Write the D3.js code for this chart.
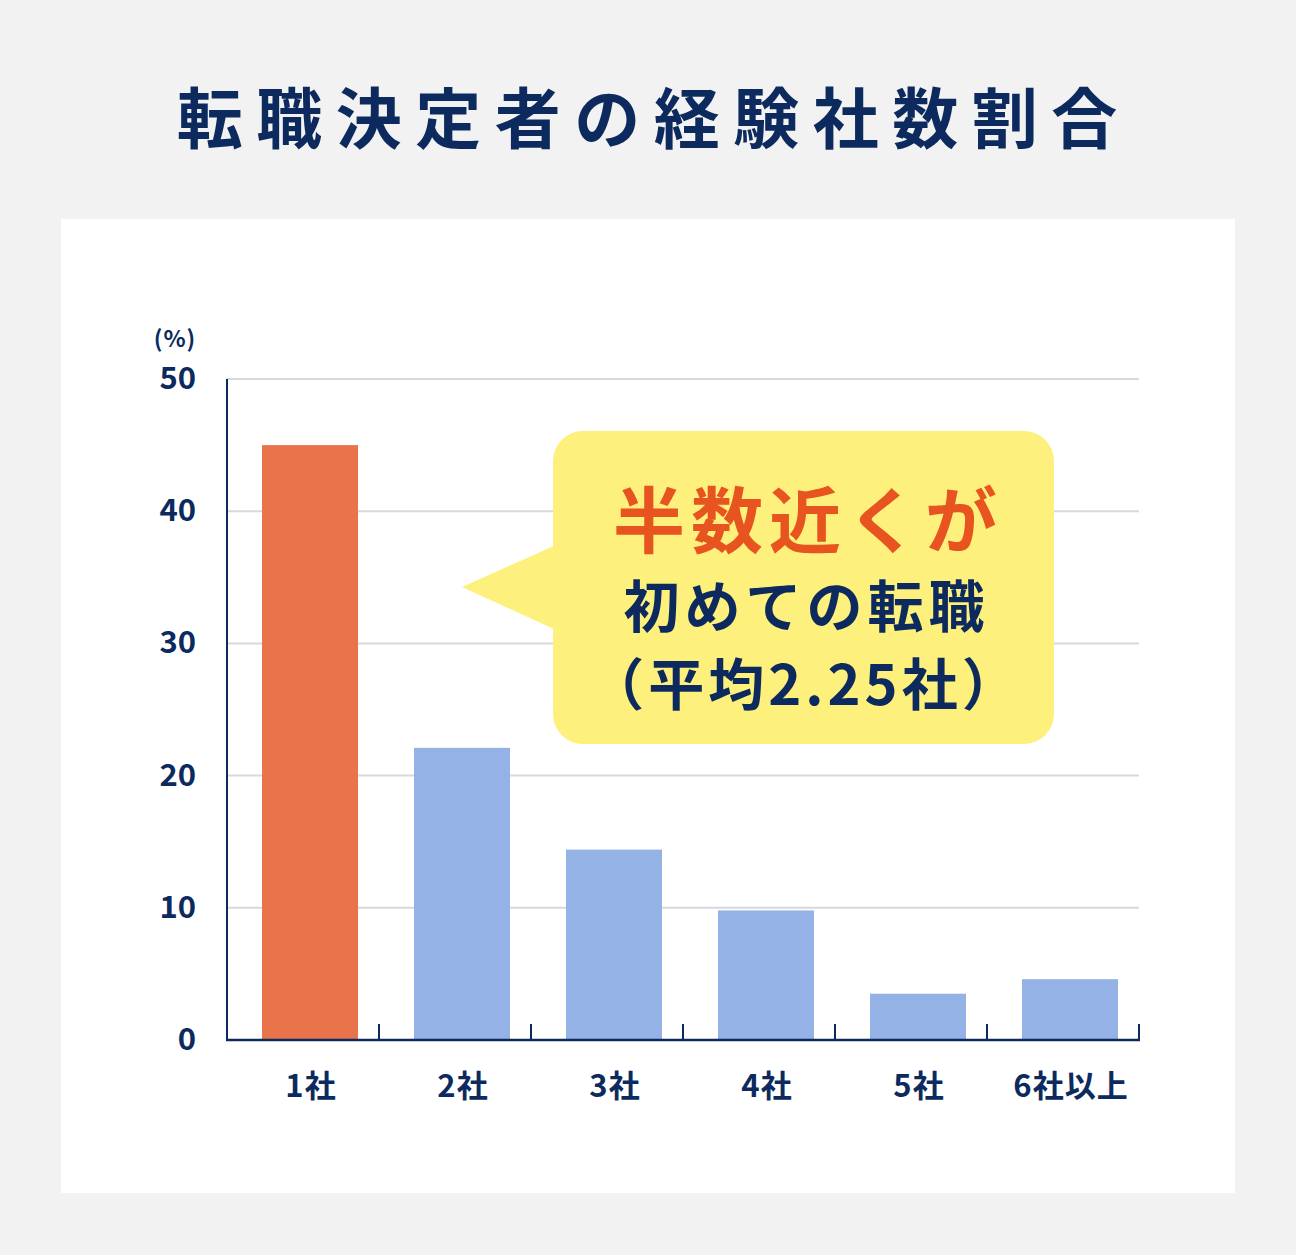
<!DOCTYPE html>
<html><head><meta charset="utf-8">
<script src="https://cdn.jsdelivr.net/npm/d3@7"></script>
<style>
html,body{margin:0;padding:0;background:#f2f2f2;}
svg{display:block;font-family:"Noto Sans CJK JP","Noto Sans",sans-serif;}
</style></head>
<body>
<svg id="chart" width="1296" height="1255"></svg>
<script>
const title = "転職決定者の経験社数割合";
const categories = ["1社","2社","3社","4社","5社","6社以上"];
const values = [45.0, 22.1, 14.4, 9.8, 3.5, 4.6];
const highlight = [true,false,false,false,false,false];
const yTicks = [0,10,20,30,40,50];
const unitLabel = "(%)";
const calloutLines = ["半数近くが","初めての転職","（平均2.25社）"];

const navy = "#0c2a5e";
const svg = d3.select("#chart");
svg.append("rect").attr("width",1296).attr("height",1255).attr("fill","#f2f2f2");
svg.append("rect").attr("x",61).attr("y",219).attr("width",1174).attr("height",974).attr("fill","#ffffff");

const tSp = 13.5;
svg.append("text").attr("x",647+tSp/2).attr("y",143).attr("text-anchor","middle")
  .attr("font-size",66).attr("font-weight",700).attr("fill",navy).attr("letter-spacing",tSp).text(title);

const x = d3.scaleBand().domain(categories).range([227,1139]).paddingInner(0).paddingOuter(0);
const y = d3.scaleLinear().domain([0,50]).range([1040,379]);

// gridlines
svg.append("g").selectAll("line").data(yTicks.filter(d=>d>0)).join("line")
  .attr("x1",227).attr("x2",1139).attr("y1",d=>y(d)).attr("y2",d=>y(d))
  .attr("stroke","#d8d8dd").attr("stroke-width",2);

// bars
const bw = 96, shift = 7;
svg.append("g").selectAll("rect").data(values).join("rect")
  .attr("x",(d,i)=>x(categories[i])+x.bandwidth()/2+shift-bw/2)
  .attr("width",bw)
  .attr("y",d=>y(d)).attr("height",d=>y(0)-y(d))
  .attr("fill",(d,i)=>highlight[i]?"#e9744c":"#94b2e5");

// y axis
svg.append("line").attr("x1",227).attr("x2",227).attr("y1",y(50)).attr("y2",y(0)+1).attr("stroke",navy).attr("stroke-width",2);
svg.append("g").selectAll("text").data(yTicks).join("text")
  .attr("x",196).attr("y",d=>y(d)+10).attr("text-anchor","end")
  .attr("font-size",31).attr("font-weight",700).attr("fill",navy).text(d=>d);
svg.append("text").attr("x",175).attr("y",347).attr("text-anchor","middle")
  .attr("font-size",23).attr("font-weight",700).attr("fill",navy).attr("letter-spacing",1).text(unitLabel);

// x axis
svg.append("line").attr("x1",226).attr("x2",1140).attr("y1",y(0)).attr("y2",y(0)).attr("stroke",navy).attr("stroke-width",2.5);
svg.append("g").selectAll("line").data(categories).join("line")
  .attr("x1",d=>x(d)+x.bandwidth()).attr("x2",d=>x(d)+x.bandwidth())
  .attr("y1",y(0)-16).attr("y2",y(0)).attr("stroke",navy).attr("stroke-width",2);
svg.append("g").selectAll("text").data(categories).join("text")
  .attr("x",(d,i)=>x(d)+x.bandwidth()/2+shift+1).attr("y",1097).attr("text-anchor","middle")
  .attr("font-size",31).attr("font-weight",700).attr("fill",navy).attr("letter-spacing",1).text(d=>d);

// callout
const cg = svg.append("g");
cg.append("path").attr("d","M556,545 L462,587 L556,630 Z").attr("fill","#fef07c");
cg.append("rect").attr("x",553).attr("y",431).attr("width",501).attr("height",313).attr("rx",30).attr("fill","#fef07c");
cg.append("text").attr("x",805+3).attr("y",547).attr("text-anchor","middle")
  .attr("font-size",72).attr("font-weight",700).attr("fill","#e8541f").attr("letter-spacing",6).text(calloutLines[0]);
cg.append("text").attr("x",804+2.5).attr("y",627).attr("text-anchor","middle")
  .attr("font-size",56).attr("font-weight",700).attr("fill",navy).attr("letter-spacing",5).text(calloutLines[1]);
cg.append("text").attr("x",803+2).attr("y",705).attr("text-anchor","middle")
  .attr("font-size",56).attr("font-weight",700).attr("fill",navy).attr("letter-spacing",4).text(calloutLines[2]);
</script>
</body></html>
